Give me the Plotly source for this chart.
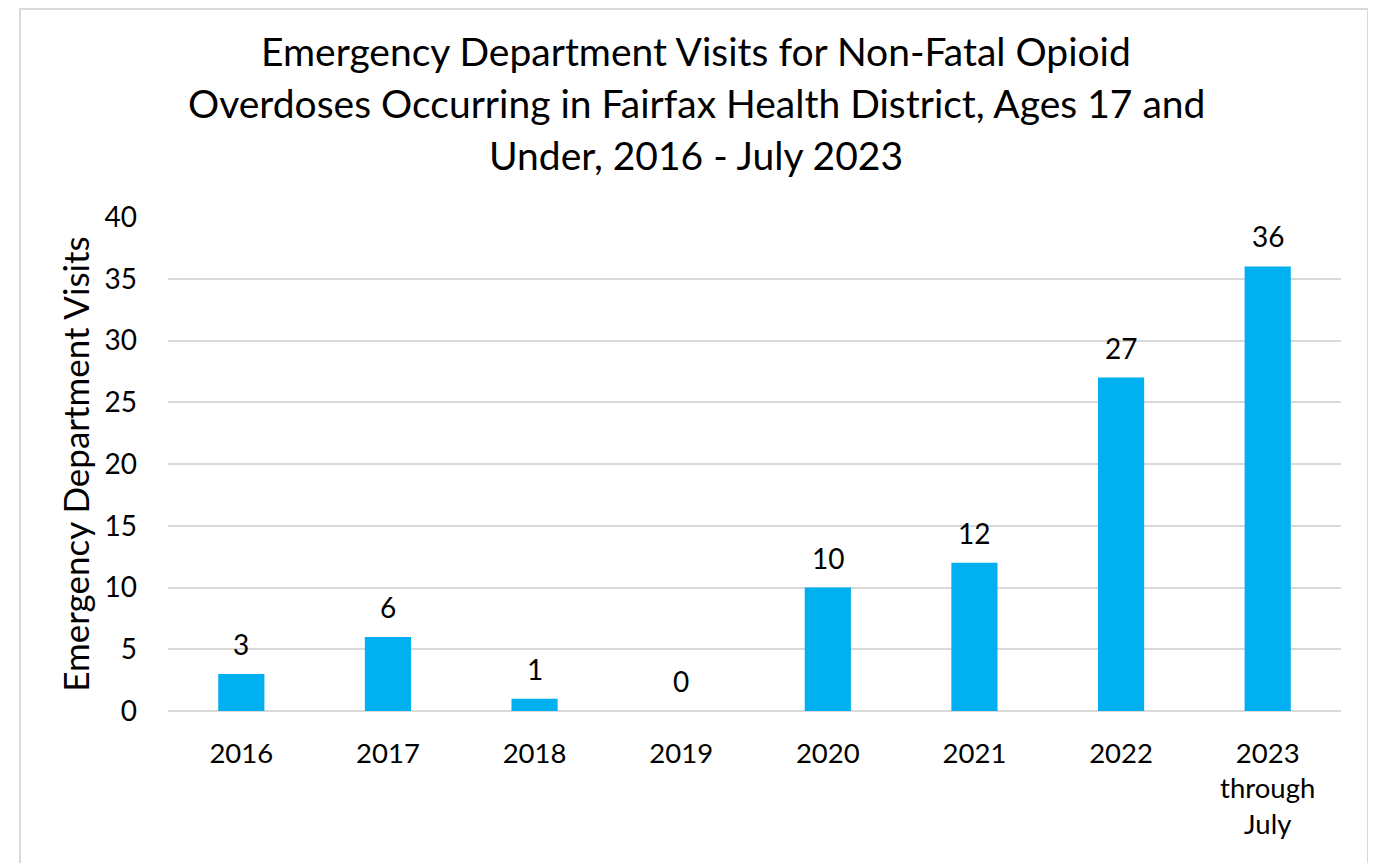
import plotly.graph_objects as go

categories = ["2016", "2017", "2018", "2019", "2020", "2021", "2022", "2023<br>through<br>July"]
visits = [3, 6, 1, 0, 10, 12, 27, 36]
y_ticks = [0, 5, 10, 15, 20, 25, 30, 35, 40]
title_lines = [
    "Emergency Department Visits for Non-Fatal Opioid",
    "Overdoses Occurring in Fairfax Health District, Ages 17 and",
    "Under, 2016 - July 2023",
]
y_title = "Emergency Department Visits"

FONT = "Lato"
W, H = 1376, 863
OFF = 8  # page body margin offset
# plot area in screen pixels: x 168..1341, y 217..711
L, T = 168 - OFF, 217 - OFF
R = W - (1341 - OFF)
B = H - (711 - OFF)
pw, ph = W - L - R, H - T - B

def px_x(x):
    return (x - OFF - L) / pw

def px_y(y):
    return (H - B - (y - OFF)) / ph

fig = go.Figure()
fig.add_trace(go.Bar(
    x=categories, y=visits,
    marker=dict(color="#00B0F0", line=dict(width=0)),
    hoverinfo="x+y",
))

annotations = []
for i, v in enumerate(visits):
    annotations.append(dict(
        x=i, y=v, xref="x", yref="y", text=str(v), showarrow=False,
        yanchor="middle", yshift=30,
        font=dict(family=FONT, size=28, color="black"),
    ))

title_centers = [51, 103, 155]
for line, yc in zip(title_lines, title_centers):
    annotations.append(dict(
        x=px_x(696), y=px_y(yc), xref="paper", yref="paper", text=line,
        showarrow=False, xanchor="center", yanchor="middle",
        font=dict(family=FONT, size=39, color="black"),
    ))

fig.update_layout(
    width=W, height=H,
    margin=dict(l=L, r=R, t=T, b=B, pad=0),
    paper_bgcolor="white", plot_bgcolor="white",
    showlegend=False,
    bargap=0.685,
    annotations=annotations,
    font=dict(family=FONT, color="black"),
    shapes=[dict(
        type="rect", xref="paper", yref="paper",
        x0=px_x(20), x1=px_x(1368), y0=px_y(H + 40), y1=px_y(9),
        line=dict(color="#D9D9D9", width=2), fillcolor="rgba(0,0,0,0)", layer="below",
    )],
    xaxis=dict(
        type="category", automargin=False,
        range=[-0.5, len(categories) - 0.5],
        showgrid=False, showline=False, zeroline=False,
        ticks="", ticklabelstandoff=23,
        tickfont=dict(family=FONT, size=27.5, color="black"),
    ),
    yaxis=dict(
        range=[0, 40], tickvals=y_ticks, automargin=False,
        showgrid=True, gridcolor="#D9D9D9", gridwidth=2,
        zeroline=True, zerolinecolor="#D9D9D9", zerolinewidth=2,
        showline=False, ticks="", ticklabelstandoff=30,
        tickfont=dict(family=FONT, size=28, color="black"),
        title=dict(text=y_title, font=dict(family=FONT, size=35, color="black"), standoff=4),
    ),
)

fig.write_html("out.html")
